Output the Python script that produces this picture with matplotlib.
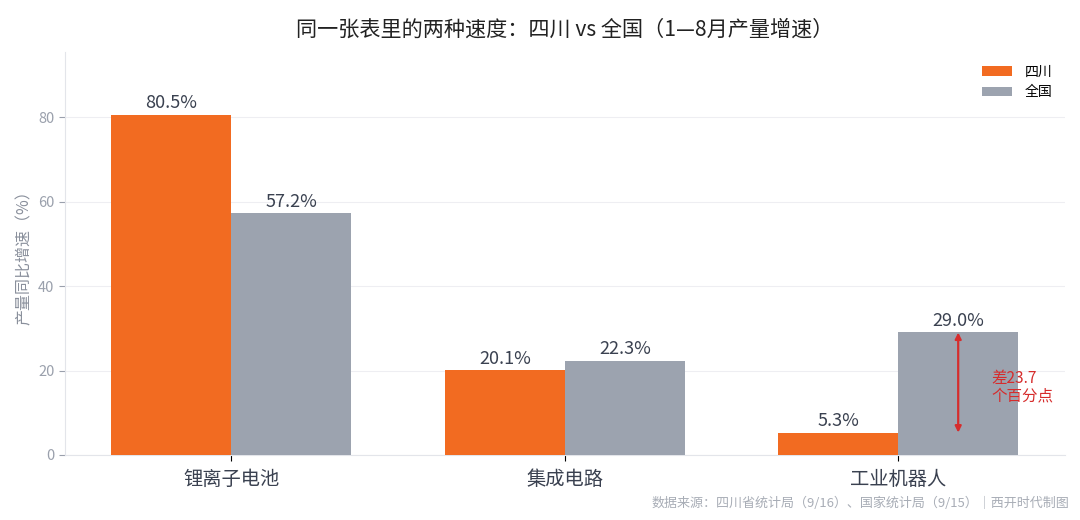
import matplotlib
matplotlib.use('Agg')
import matplotlib.pyplot as plt
import numpy as np

plt.rcParams['font.family'] = ['Noto Sans CJK SC', 'DejaVu Sans']
plt.rcParams['axes.unicode_minus'] = False

categories = ['锂离子电池', '集成电路', '工业机器人']
sichuan = [80.5, 20.1, 5.3]
national = [57.2, 22.3, 29.0]
series_names = ['四川', '全国']

ORANGE = '#F26B21'
GRAY = '#9CA3AF'
RED = '#D62C2C'
TEXT = '#3A4150'

fig, ax = plt.subplots(figsize=(10.8, 5.2), dpi=100)
fig.subplots_adjust(left=0.06, right=0.986, top=0.9, bottom=0.125)

x = np.arange(len(categories))
w = 0.36
b1 = ax.bar(x - w / 2, sichuan, w, color=ORANGE, label=series_names[0], zorder=3)
b2 = ax.bar(x + w / 2, national, w, color=GRAY, label=series_names[1], zorder=3)

for bars, vals in ((b1, sichuan), (b2, national)):
    for rect, v in zip(bars, vals):
        ax.text(rect.get_x() + rect.get_width() / 2, v + 0.6, f'{v:.1f}%',
                ha='center', va='bottom', fontsize=13, color=TEXT)

# 差值标注
gap = national[2] - sichuan[2]
ax.annotate('', xy=(2.18, sichuan[2]), xytext=(2.18, national[2]),
            arrowprops=dict(arrowstyle='<|-|>', color=RED, lw=1.6,
                            mutation_scale=9, shrinkA=0, shrinkB=0), zorder=4)
ax.text(2.28, 16, f'差{gap:.1f}\n个百分点', color=RED, fontsize=11.2,
        ha='left', va='center', linespacing=1.0, zorder=4)

ax.set_xlim(-0.5, 2.5)
ax.set_ylim(0, 95.4)
ax.set_yticks([0, 20, 40, 60, 80])
ax.set_xticks(x)
ax.set_xticklabels(categories, fontsize=13.9, color=TEXT)
ax.tick_params(axis='y', colors='#9AA0AC', labelsize=10.5, length=4, width=0.8)
ax.tick_params(axis='x', length=4, width=0.8, colors='black', pad=6)
for lab in ax.get_xticklabels():
    lab.set_color(TEXT)
ax.grid(axis='y', color='#EEEEF2', lw=0.8, zorder=0)
for s in ('top', 'right'):
    ax.spines[s].set_visible(False)
ax.spines['left'].set_color('#E3E5EA')
ax.spines['bottom'].set_color('#E3E5EA')

ax.set_ylabel('产量同比增速（%）', fontsize=11.5, color='#8A909C', labelpad=4)
ax.set_title('同一张表里的两种速度：四川 vs 全国（1—8月产量增速）',
             fontsize=15.2, color='#222222', pad=12)

ax.legend(loc='upper right', frameon=False, fontsize=10, handlelength=2.2,
          handleheight=0.7, handletextpad=0.9, borderaxespad=0.5)

fig.text(0.99, 0.02, '数据来源：四川省统计局（9/16）、国家统计局（9/15）｜西开时代制图',
         ha='right', va='bottom', fontsize=9.4, color='#A8ADB6')

fig.savefig('out.png', dpi=100)
